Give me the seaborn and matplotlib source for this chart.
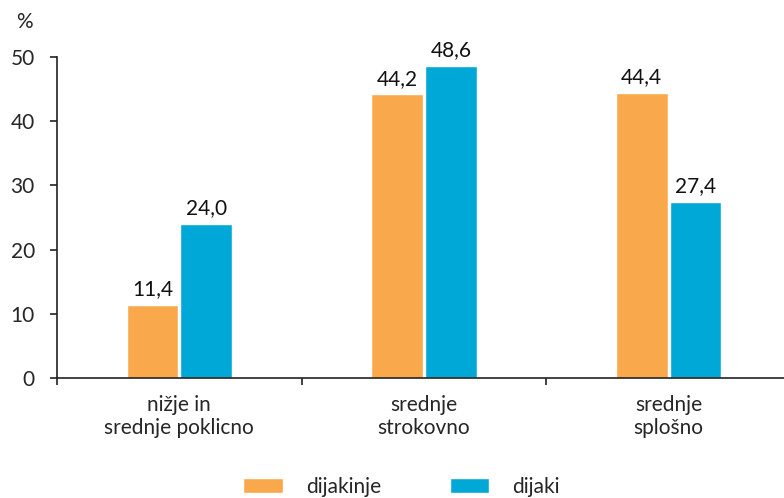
import matplotlib
matplotlib.use("Agg")
import matplotlib.pyplot as plt
import seaborn as sns
import pandas as pd
from matplotlib.ticker import FixedLocator, NullFormatter

categories = ["nižje in\nsrednje poklicno", "srednje\nstrokovno", "srednje\nsplošno"]
dijakinje = [11.4, 44.2, 44.4]
dijaki = [24.0, 48.6, 27.4]
series = ["dijakinje", "dijaki"]
colors = ["#F9A84B", "#00A8D7"]

df = pd.DataFrame({
    "kategorija": categories * 2,
    "delez": dijakinje + dijaki,
    "spol": [series[0]] * 3 + [series[1]] * 3,
})

sns.set_style("white")
plt.rcParams["font.family"] = ["Lato", "DejaVu Sans"]
FS = 15

fig = plt.figure(figsize=(7.84, 4.98), dpi=100)
ax = fig.add_axes([57 / 784, 120 / 498, 734 / 784, 321 / 498])

sns.barplot(data=df, x="kategorija", y="delez", hue="spol", palette=colors,
            width=0.44, gap=0.04, saturation=1, ax=ax, legend=True)

for cont in ax.containers:
    ax.bar_label(cont, fmt=lambda v: f"{v:.1f}".replace(".", ","), padding=4,
                 fontsize=FS, color="#111111")

ax.set_xlim(-0.5, 2.5)
ax.set_ylim(0, 50)
ax.set_yticks([0, 10, 20, 30, 40, 50])
ax.tick_params(axis="y", labelsize=FS, length=5, width=1.2, color="#222222",
               direction="out", left=True, pad=11)
ax.tick_params(axis="x", which="major", length=0, labelsize=FS, pad=12)
ax.xaxis.set_minor_locator(FixedLocator([-0.5, 0.5, 1.5, 2.5]))
ax.xaxis.set_minor_formatter(NullFormatter())
ax.tick_params(axis="x", which="minor", length=5, width=1.2, color="#222222",
               direction="out", bottom=True)
ax.set_xlabel("")
ax.set_ylabel("")
sns.despine(ax=ax)
for s in ["left", "bottom"]:
    ax.spines[s].set_color("#222222")
    ax.spines[s].set_linewidth(1.2)

fig.text(24 / 784, 1 - 22 / 498, "%", fontsize=FS, ha="center", va="center")

handles, labels = ax.get_legend_handles_labels()
ax.get_legend().remove()
fig.legend(handles, labels, loc="center", bbox_to_anchor=(0.512, 1 - 487 / 498),
           ncol=2, frameon=False, fontsize=FS, handlelength=1.9,
           handleheight=0.75, columnspacing=3.3, handletextpad=1.1,
           borderpad=0)

fig.savefig("out.png", dpi=100)
